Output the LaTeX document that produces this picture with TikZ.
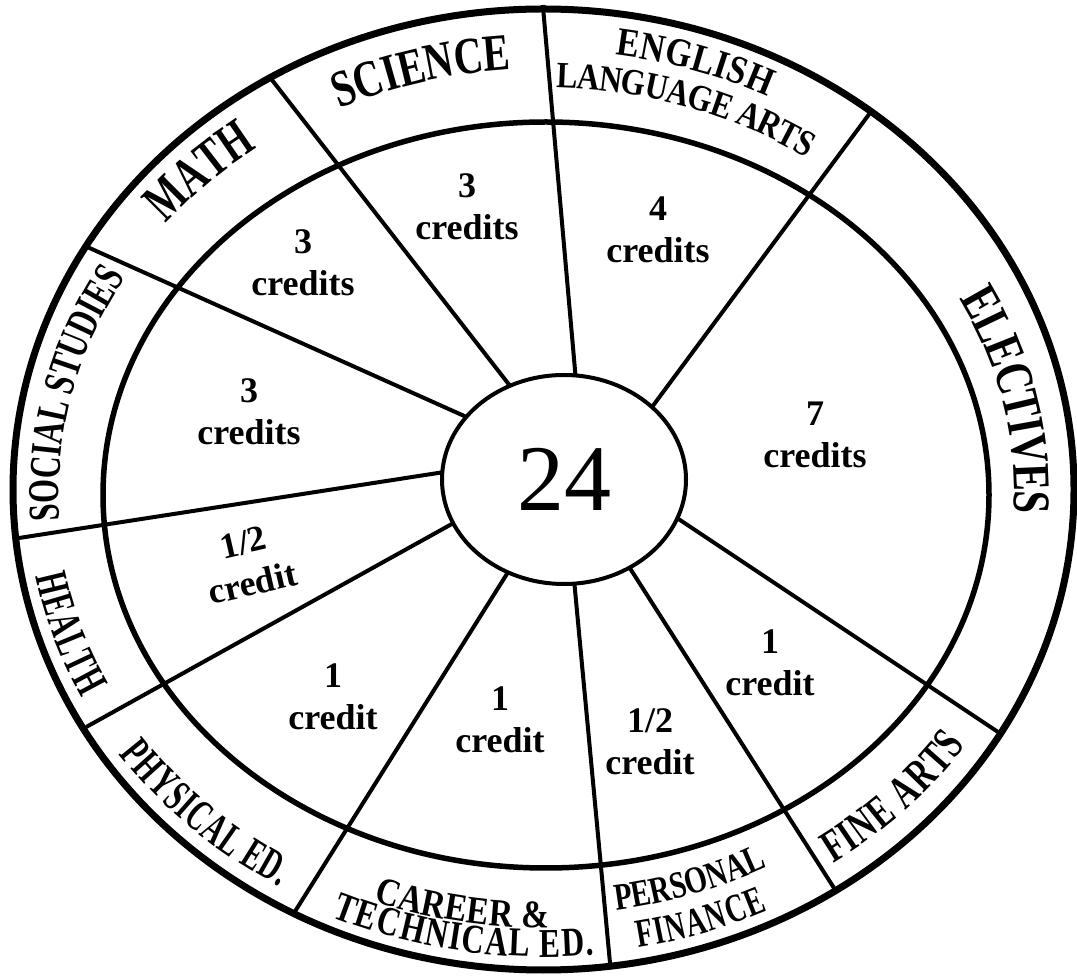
\documentclass[tikz,border=0pt]{standalone}
\usepackage{fontspec}
\setmainfont{Liberation Serif}
\newfontfamily\waA{Liberation Serif}[UprightFont=* Bold, FakeStretch=0.62]
\newfontfamily\waB{Liberation Serif}[UprightFont=* Bold, FakeStretch=0.70]
\newfontfamily\waC{Liberation Serif}[UprightFont=* Bold, FakeStretch=0.77]
\newfontfamily\waD{Liberation Serif}[UprightFont=* Bold, FakeStretch=0.85]
\usetikzlibrary{shapes.geometric,decorations.text}
% label along the middle ellipse of the outer ring
\newcommand{\arcTop}[4]{%
  \path[decorate,decoration={text along path,text align=center,raise=#2,text={|#3|#4}}]
    ({486.75*cos(#1+25)},{426.75*sin(#1+25)})
    arc[start angle=#1+25,end angle=#1-25,x radius=486.75pt,y radius=426.75pt];}
\newcommand{\arcBot}[4]{%
  \path[decorate,decoration={text along path,text align=center,raise=#2,text={|#3|#4}}]
    ({486.75*cos(#1-25)},{426.75*sin(#1-25)})
    arc[start angle=#1-25,end angle=#1+25,x radius=486.75pt,y radius=426.75pt];}
\begin{document}
\begin{tikzpicture}[x=1pt,y=1pt,
  spoke/.style={line width=4pt, shorten <=-8pt, shorten >=-2pt},
  ring/.style={line width=#1},
  credit/.style={align=center, font=\bfseries\fontsize{36}{42}\selectfont, inner sep=0pt}]
\useasboundingbox (0,0) rectangle (1077,978);
% spoke end points
\coordinate (s1i) at (507,596);  \coordinate (s1o) at (272,898);
\coordinate (s2i) at (462,563);  \coordinate (s2o) at (89.5,730);
\coordinate (s3i) at (438,505);  \coordinate (s3o) at (19,440);
\coordinate (s4i) at (450,453);  \coordinate (s4o) at (88,252);
\coordinate (s5i) at (505,401);  \coordinate (s5o) at (294,65);
\coordinate (s6i) at (575,388);  \coordinate (s6o) at (610,15);
\coordinate (s7i) at (633,405);  \coordinate (s7o) at (834,90);
\coordinate (s8i) at (680,458);  \coordinate (s8o) at (998,246);
\coordinate (s9i) at (655,575);  \coordinate (s9o) at (870,865);
\coordinate (s10i) at (575,608); \coordinate (s10o) at (543,971);
\draw[spoke] (s1i) -- (s1o);
\draw[spoke] (s2i) -- (s2o);
\draw[spoke] (s3i) -- (s3o);
\draw[spoke] (s4i) -- (s4o);
\draw[spoke] (s5i) -- (s5o);
\draw[spoke] (s6i) -- (s6o);
\draw[spoke] (s7i) -- (s7o);
\draw[spoke] (s8i) -- (s8o);
\draw[spoke] (s9i) -- (s9o);
\draw[spoke] (s10i) -- (s10o);
% rings
\draw[ring=7pt] (543.5,488.5) ellipse [x radius=530.5pt, y radius=480.5pt];
\draw[ring=5.5pt] (546,483) ellipse [x radius=443pt, y radius=373pt];
\node[ellipse, draw, fill=white, line width=4pt, minimum width=244pt, minimum height=209pt,
      inner sep=0pt, font=\fontsize{94}{94}\selectfont] (c) at (564,498.5) {24};
% credits
\node[credit] (tsci) at (467,771) {3\\credits};
\node[credit] (tmath) at (303,715) {3\\credits};
\node[credit] (tsoc) at (249,566) {3\\credits};
\node[credit] (tela) at (658,748) {4\\credits};
\node[credit] (telec) at (815,543) {7\\credits};
\node[credit, rotate=13] (thealth) at (248,415) {1/2\\credit};
\node[credit] (tphys) at (333,281) {1\\credit};
\node[credit] (tcar) at (500,258) {1\\credit};
\node[credit] (tpf) at (650,236) {1/2\\credit};
\node[credit] (tfine) at (770,315) {1\\credit};
% ring labels
\begin{scope}[shift={(544.75,485.75)}]
\arcTop{104.8}{-3pt}{\waC\fontsize{52}{52}\selectfont}{SCIENCE}
\arcTop{134.2}{0pt}{\waB\fontsize{55}{55}\selectfont}{MATH}
\arcTop{166.9}{-1pt}{\waB\fontsize{44}{44}\selectfont}{SOCIAL STUDIES}
\arcTop{72.4}{15pt}{\waD\fontsize{40}{40}\selectfont}{ENGLISH}
\arcTop{72.0}{-22pt}{\waD\fontsize{37}{37}\selectfont}{LANGUAGE ARTS}
\arcTop{12.5}{-17pt}{\waC\fontsize{53}{53}\selectfont}{ELECTIVES}
\arcBot{198.1}{-31pt}{\waA\fontsize{46}{46}\selectfont}{HEALTH}
\arcBot{226.3}{-32pt}{\waA\fontsize{45}{45}\selectfont}{PHYSICAL ED.}
\arcBot{259.9}{-9pt}{\waD\fontsize{39}{39}\selectfont}{CAREER {\&}}
\arcBot{260.5}{-38pt}{\waC\fontsize{41}{41}\selectfont}{TECHNICAL ED.}
\arcBot{-71.7}{4pt}{\waC\fontsize{38}{38}\selectfont}{PERSONAL}
\arcBot{-71.7}{-36pt}{\waB\fontsize{40}{40}\selectfont}{FINANCE}
\arcBot{-44.2}{-23pt}{\waB\fontsize{46}{46}\selectfont}{FINE ARTS}
\end{scope}
\end{tikzpicture}
\end{document}
